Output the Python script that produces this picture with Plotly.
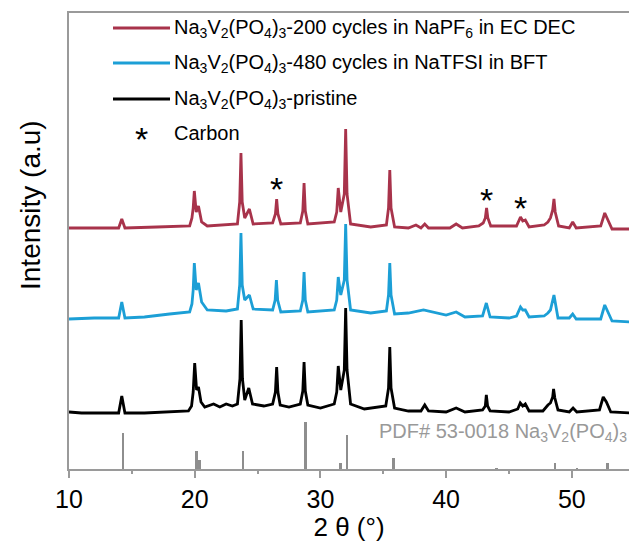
import plotly.graph_objects as go

# ---------------- data ----------------
# (2-theta in degrees, intensity in a.u. with stacking offset) for each pattern
pristine = [(10.0, 58), (11.0, 57), (12.5, 57), (13.95, 57), (14.2, 74), (14.45, 57), (16.0, 57), (18.0, 58),
            (19.5, 59), (19.75, 64), (19.88, 78), (20.0, 107), (20.15, 80), (20.3, 83), (20.5, 68), (20.8, 63),
            (21.5, 66), (22.0, 63), (22.5, 66), (23.0, 64), (23.4, 66), (23.6, 91), (23.7, 150), (23.8, 91),
            (23.98, 70), (24.3, 82), (24.6, 66), (25.5, 64), (26.2, 66), (26.42, 78), (26.52, 103), (26.62, 78),
            (26.8, 65), (27.5, 63), (28.4, 66), (28.6, 79), (28.7, 108), (28.8, 79), (29.0, 65), (30.0, 62),
            (31.1, 66), (31.3, 78), (31.42, 104), (31.62, 80), (31.9, 100), (32.01, 162), (32.12, 100),
            (32.4, 66), (33.5, 61), (35.2, 64), (35.42, 82), (35.52, 123), (35.62, 82), (35.9, 62), (37.0, 59),
            (38.0, 59), (38.3, 65), (38.6, 59), (40.0, 58), (40.8, 62), (41.5, 58), (42.9, 60), (43.12, 64),
            (43.2, 75), (43.3, 64), (43.5, 59), (45.0, 58), (45.7, 61), (45.9, 67), (46.1, 64), (46.3, 66),
            (46.6, 59), (47.7, 59), (48.1, 65), (48.3, 67), (48.48, 73), (48.55, 81), (48.65, 72), (48.9, 60),
            (49.8, 58), (50.1, 62), (50.4, 58), (52.2, 60), (52.5, 73), (52.75, 68), (53.1, 58), (54.6, 57)]

bft_480 = [(10.0, 151), (12.0, 152), (13.95, 152), (14.2, 168), (14.45, 152), (16.0, 153), (18.0, 156),
           (19.6, 158), (19.78, 166), (19.88, 180), (19.97, 207), (20.12, 180), (20.3, 187), (20.55, 168),
           (21.0, 160), (22.5, 159), (23.4, 161), (23.58, 185), (23.68, 237), (23.78, 185), (23.98, 170),
           (24.35, 175), (24.65, 161), (26.2, 160), (26.4, 170), (26.5, 190), (26.6, 170), (26.85, 158),
           (28.4, 159), (28.6, 170), (28.7, 198), (28.8, 170), (29.0, 158), (31.1, 160), (31.3, 170),
           (31.42, 193), (31.62, 175), (31.9, 190), (32.01, 246), (32.12, 190), (32.4, 160), (34.0, 157),
           (35.25, 159), (35.42, 175), (35.52, 207), (35.62, 175), (35.9, 156), (37.0, 157), (38.2, 160),
           (39.0, 158), (40.0, 155), (40.8, 158), (41.5, 153), (42.9, 154), (43.2, 167), (43.5, 153),
           (45.0, 152), (45.6, 154), (45.92, 163), (46.1, 160), (46.3, 160), (46.6, 153), (47.8, 154),
           (48.1, 157), (48.3, 160), (48.58, 175), (48.9, 152), (49.8, 152), (50.07, 156), (50.35, 151),
           (52.3, 151), (52.62, 165), (52.8, 160), (53.2, 149), (54.6, 148)]

napf6_200 = [(10.0, 242), (12.0, 242), (13.95, 242), (14.2, 251), (14.45, 242), (17.0, 243), (19.6, 244),
             (19.78, 252), (19.88, 262), (19.97, 279), (20.12, 258), (20.3, 264), (20.55, 248), (21.0, 244),
             (22.5, 245), (23.4, 246), (23.58, 268), (23.68, 317), (23.78, 268), (23.98, 252), (24.35, 261),
             (24.65, 246), (26.2, 247), (26.42, 256), (26.52, 271), (26.62, 256), (26.85, 246), (28.4, 247),
             (28.6, 259), (28.7, 287), (28.8, 259), (29.0, 246), (31.1, 248), (31.3, 258), (31.42, 282),
             (31.62, 258), (31.9, 276), (32.01, 341), (32.12, 276), (32.4, 246), (34.0, 243), (35.25, 245),
             (35.42, 262), (35.52, 300), (35.62, 262), (35.9, 243), (37.0, 242), (37.6, 245), (38.0, 242),
             (38.3, 246), (38.6, 242), (40.3, 242), (40.8, 246), (41.3, 242), (42.6, 244), (42.95, 247),
             (43.12, 252), (43.22, 262), (43.32, 252), (43.55, 244), (45.6, 244), (45.92, 253), (46.1, 249),
             (46.3, 250), (46.6, 243), (47.8, 245), (48.1, 248), (48.3, 252), (48.48, 260), (48.58, 271),
             (48.68, 258), (48.95, 244), (49.8, 242), (50.07, 248), (50.35, 242), (52.3, 244), (52.55, 254),
             (52.62, 257), (52.8, 252), (53.2, 241), (54.6, 241)]

# reference pattern PDF# 53-0018
pdf_x = [14.3, 20.15, 20.4, 23.85, 28.8, 31.6, 32.1, 35.8, 44.0, 48.65, 50.4, 52.85]
pdf_h = [37, 19, 10, 19, 48, 7, 35, 12, 2, 7, 2, 7]

# carbon peak markers (2-theta, marker height)
carbon_x = [26.5, 43.2, 45.95]
carbon_y = [287, 276, 268]

x_ticks = [10, 20, 30, 40, 50]

NVP = "Na<sub>3</sub>V<sub>2</sub>(PO<sub>4</sub>)<sub>3</sub>"
names = [NVP + "-200 cycles in NaPF<sub>6</sub> in EC DEC",
         NVP + "-480 cycles in NaTFSI in BFT",
         NVP + "-pristine"]
colors = ["#a8334b", "#1c9fd6", "#000000"]
series = [napf6_200, bft_480, pristine]

FONT = "Liberation Sans, Arial, sans-serif"
AX = "#9a9a9a"

fig = go.Figure()
fig.add_trace(go.Bar(x=pdf_x, y=pdf_h, width=0.2, marker=dict(color="#8e8e8e", line=dict(width=0)),
                     showlegend=False, hoverinfo="skip"))
for data, c, n in reversed(list(zip(series, colors, names))):
    xs = [p[0] for p in data]
    ys = [p[1] for p in data]
    fig.add_trace(go.Scatter(x=xs, y=ys, mode="lines", line=dict(color=c, width=2.8),
                             name=n, showlegend=False))

# carbon asterisks
for cx, cy in zip(carbon_x, carbon_y):
    fig.add_annotation(x=cx, y=cy, text="*", showarrow=False, xref="x", yref="y",
                       xanchor="center", yanchor="middle", yshift=-6,
                       font=dict(family=FONT, size=34, color="black"))

# PDF label
fig.add_annotation(x=1.0, y=38, xref="paper", yref="y", xanchor="right", yanchor="middle",
                   text="PDF# 53-0018 " + NVP, showarrow=False, xshift=0,
                   font=dict(family=FONT, size=20, color="#999999"))

# manual legend
W, H, L, B = 560.0, 456.0, 69, 469
rows_py = [28, 63, 99]
for py, c, n in zip(rows_py, colors, names):
    yp = (B - py) / H
    fig.add_shape(type="line", xref="paper", yref="paper", x0=(113 - L) / W, x1=(170 - L) / W,
                  y0=yp, y1=yp, line=dict(color=c, width=3))
    fig.add_annotation(x=(172 - L) / W, y=yp, xref="paper", yref="paper", xanchor="left",
                       yanchor="middle", text=n, showarrow=False,
                       font=dict(family=FONT, size=20, color="black"))
yp = (B - 133) / H
fig.add_annotation(x=(141 - L) / W, y=yp, xref="paper", yref="paper", text="*", showarrow=False,
                   xanchor="center", yanchor="middle", yshift=-6,
                   font=dict(family=FONT, size=34, color="black"))
fig.add_annotation(x=(172 - L) / W, y=yp, xref="paper", yref="paper", xanchor="left", yanchor="middle",
                   text="Carbon", showarrow=False, font=dict(family=FONT, size=20, color="black"))

# y title
fig.add_annotation(x=(30 - L) / W, y=(B - 205) / H, xref="paper", yref="paper", text="Intensity (a.u)",
                   textangle=-90, showarrow=False, xanchor="center", yanchor="middle",
                   font=dict(family=FONT, size=28, color="black"))

fig.update_layout(
    width=629, height=542,
    margin=dict(l=69, r=0, t=13, b=73),
    plot_bgcolor="white", paper_bgcolor="white",
    font=dict(family=FONT, color="black"),
    bargap=0,
    showlegend=False,
)
fig.update_xaxes(range=[10, 54.55], tickvals=x_ticks, ticks="outside", ticklen=7, tickwidth=1.5,
                 tickcolor=AX, showline=True, linecolor=AX, linewidth=1.5, mirror=True,
                 showgrid=False, zeroline=False, tickfont=dict(size=25, family=FONT),
                 minor=dict(dtick=5, tick0=10, ticks="outside", ticklen=3, tickcolor=AX, tickwidth=1.5),
                 title=dict(text="2 θ (°)", font=dict(size=26, family=FONT), standoff=2))
fig.update_yaxes(range=[1, 457], showticklabels=False, ticks="", showline=True, linecolor=AX,
                 linewidth=1.5, mirror=False, showgrid=False, zeroline=False)

fig.write_html("out.html")
